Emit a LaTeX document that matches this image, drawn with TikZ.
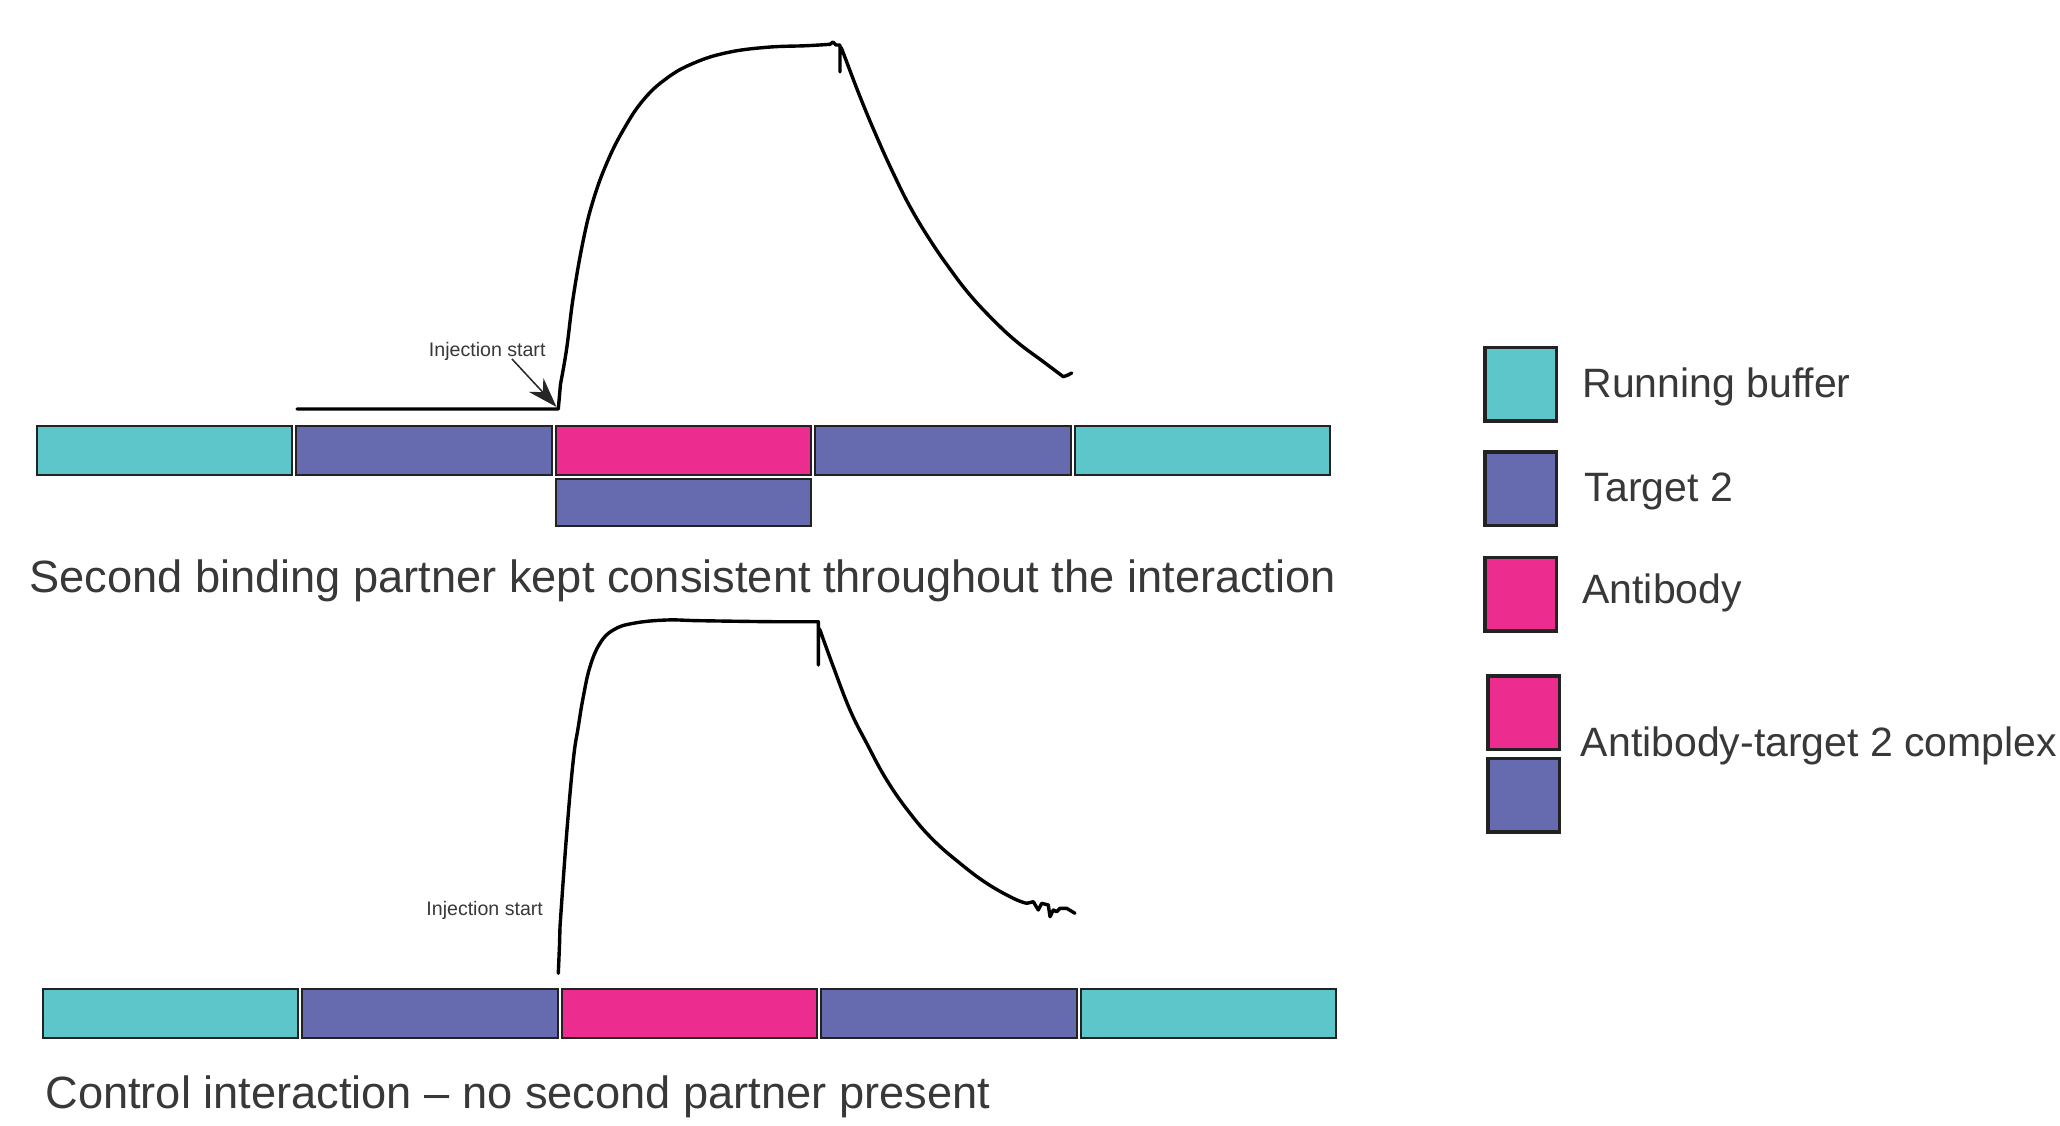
\documentclass[tikz,border=0pt]{standalone}
\usepackage{fontspec}
\setmainfont{Liberation Sans}
\usetikzlibrary{arrows.meta}
\definecolor{rbuf}{HTML}{5CC6CA}
\definecolor{tgt}{HTML}{666AAE}
\definecolor{abc}{HTML}{EC2C8F}
\definecolor{txt}{HTML}{383838}
\definecolor{edgec}{HTML}{222222}
\begin{document}
\begin{tikzpicture}[x=0.5pt,y=-0.5pt,
  seg/.style={draw=edgec, line width=1pt, minimum width=127.7pt, minimum height=24.3pt, inner sep=0pt, outer sep=0pt},
  legbox/.style={draw=edgec, line width=1.75pt, minimum width=35.75pt, minimum height=36.75pt, inner sep=0pt, outer sep=0pt},
  curve/.style={draw=black, line width=1.7pt, line join=round, line cap=round},
  capt/.style={anchor=base west, inner sep=0pt, text=txt, font=\fontsize{22.6}{27}\selectfont},
  legtext/.style={anchor=base west, inner sep=0pt, text=txt, font=\fontsize{20.5}{25}\selectfont},
  injtext/.style={anchor=base west, inner sep=0pt, text=txt, font=\fontsize{9.8}{12}\selectfont}
]
\useasboundingbox (0,0) rectangle (2060,1125);
\fill[white] (0,0) rectangle (2060,1125);

% ---------- top bar ----------
\node[seg, fill=rbuf] (t1) at (164.7,450.3) {};
\node[seg, fill=tgt]  (t2) at (424.1,450.3) {};
\node[seg, fill=abc]  (t3) at (683.5,450.3) {};
\node[seg, fill=tgt]  (t4) at (942.9,450.3) {};
\node[seg, fill=rbuf] (t5) at (1202.3,450.3) {};
\node[seg, fill=tgt, minimum height=23.6pt] (t6) at (683.5,502.5) {};

% ---------- top curve ----------
\draw[curve] (297,409) -- (558.3,409) -- (560.5,384)
  -- plot[smooth,tension=0.7] coordinates {(560.5,384)(566.7,348.3)(573.3,296.7)(583.3,240)(593.3,200)(606.7,163.3)(623.3,130)(643.3,100)(666.7,78.3)(693.3,63.3)(726.7,52.7)(766.7,47.3)(806.7,45.7)(830,44.3)}
  -- (833,42) -- (836,45) -- (840,45) -- (840,72) -- (840,50)
  -- plot[smooth,tension=0.7] coordinates {(841.5,49)(843.3,53)(860,96.7)(876.7,136.7)(893.3,173.3)(910,206.7)(930,240)(950,269)(970,295)(993.3,320)(1016.7,341.7)(1043.3,361.7)(1063.3,376.7)}
  -- (1068,375) -- (1071.7,373);

% injection label + arrow (top)
\node[injtext] (inj1) at (428.5,356) {Injection start};
\coordinate (arrT) at (512,359);
\coordinate (arrH) at (556.5,407);
\draw[line width=0.75pt, -{Stealth[length=15pt,width=10pt]}, black!85] (arrT) -- (arrH);

\node[capt] (cap1) at (29,592) {Second binding partner kept consistent throughout the interaction};

% ---------- bottom curve ----------
\draw[curve] (558.3,973.3) -- (559.5,945) -- (560,926.7)
  -- plot[smooth,tension=0.7] coordinates {(560,926.7)(566.7,833.3)(573.3,760)(578.3,726.7)(583.3,696.7)(590,666.7)(600,643.3)(613.3,630)(633.3,623.3)(666.7,620)(700,620.7)(773.3,621.7)(818.3,621.7)}
  -- (818.3,665) -- (818.3,628)
  -- plot[smooth,tension=0.7] coordinates {(820,630)(833.3,666.7)(850,710)(866.7,743.3)(886.7,780)(910,813.3)(933.3,840)(960,863.3)(986.7,883.3)(1013.3,898.3)(1026.7,903.3)}
  -- (1033.3,901.7) -- (1038.3,910) -- (1041.7,903.3) -- (1048.3,905) -- (1050,916.7) -- (1053.3,910) -- (1056.7,911.7) -- (1060,908.3) -- (1066.7,908.3) -- (1075,913.3);

\node[injtext] (inj2) at (426,915) {Injection start};

% ---------- bottom bar ----------
\node[seg, fill=rbuf] (b1) at (170.7,1013.7) {};
\node[seg, fill=tgt]  (b2) at (430.1,1013.7) {};
\node[seg, fill=abc]  (b3) at (689.5,1013.7) {};
\node[seg, fill=tgt]  (b4) at (948.9,1013.7) {};
\node[seg, fill=rbuf] (b5) at (1208.3,1013.7) {};

\node[capt] (cap2) at (45,1108) {Control interaction – no second partner present};

% ---------- legend ----------
\node[legbox, fill=rbuf] (lg1) at (1520.8,384) {};
\node[legbox, fill=tgt]  (lg2) at (1520.8,488.5) {};
\node[legbox, fill=abc]  (lg3) at (1520.8,594.3) {};
\node[legbox, fill=abc]  (lg4a) at (1523.5,712.5) {};
\node[legbox, fill=tgt]  (lg4b) at (1523.5,795) {};

\node[legtext] (lt1) at (1582,397) {Running buffer};
\node[legtext] (lt2) at (1584.5,501.7) {Target 2};
\node[legtext] (lt3) at (1582,603.3) {Antibody};
\node[legtext] (lt4) at (1580.5,756.7) {Antibody-target 2 complex};
\end{tikzpicture}
\end{document}
